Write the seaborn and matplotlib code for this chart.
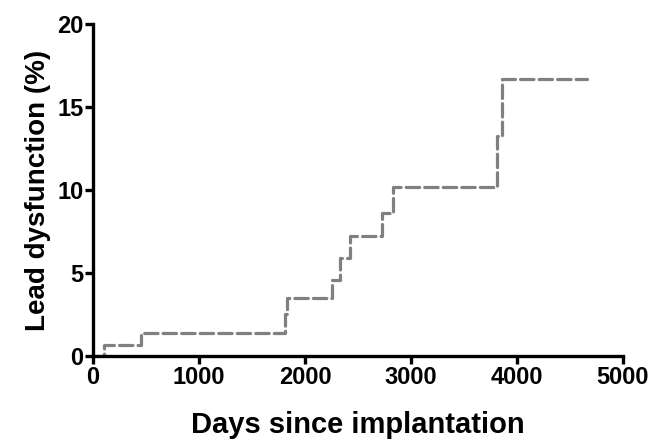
import matplotlib
matplotlib.use("Agg")
import matplotlib.pyplot as plt
import pandas as pd
import seaborn as sns

# Kaplan-Meier style step curve
days = [0, 105, 453, 1810, 1830, 2255, 2330, 2425, 2726, 2830, 3811, 3858, 4660]
dysfunction = [0, 0.66, 1.36, 2.5, 3.5, 4.6, 5.9, 7.2, 8.6, 10.2, 13.25, 16.7, 16.7]

x_ticks = [0, 1000, 2000, 3000, 4000, 5000]
y_ticks = [0, 5, 10, 15, 20]

sns.set_style("ticks")
plt.rcParams["font.family"] = ["Liberation Sans", "DejaVu Sans"]
plt.rcParams["text.color"] = "black"
plt.rcParams["xtick.color"] = "black"
plt.rcParams["ytick.color"] = "black"
plt.rcParams["axes.labelcolor"] = "black"

df = pd.DataFrame({"Days": days, "Pct": dysfunction})

fig = plt.figure(figsize=(6.53, 4.43), dpi=100)
ax = fig.add_axes([0.1424, 0.1964, 0.8116, 0.7494])

sns.lineplot(data=df, x="Days", y="Pct", ax=ax, estimator=None, sort=False,
             drawstyle="steps-post", color="#808080", linewidth=2.3,
             dashes=False)
ax.lines[0].set_dashes((4.2, 1.6))
ax.lines[0].set_dash_capstyle("round")

ax.set_xlim(0, 5000)
ax.set_ylim(0, 20)
ax.set_xticks(x_ticks)
ax.set_yticks(y_ticks)
ax.set_xticklabels([str(t) for t in x_ticks], fontsize=17, fontweight="bold")
ax.set_yticklabels([str(t) for t in y_ticks], fontsize=17, fontweight="bold")

ax.set_xlabel("Days since implantation", fontsize=21, fontweight="bold",
              labelpad=16)
ax.set_ylabel("Lead dysfunction (%)", fontsize=20, fontweight="bold",
              labelpad=4)

for side in ["left", "bottom"]:
    ax.spines[side].set_linewidth(2.4)
    ax.spines[side].set_color("black")
sns.despine(ax=ax)
ax.tick_params(axis="both", width=2.4, length=6, color="black", pad=1)

fig.savefig("out.png", dpi=100)
